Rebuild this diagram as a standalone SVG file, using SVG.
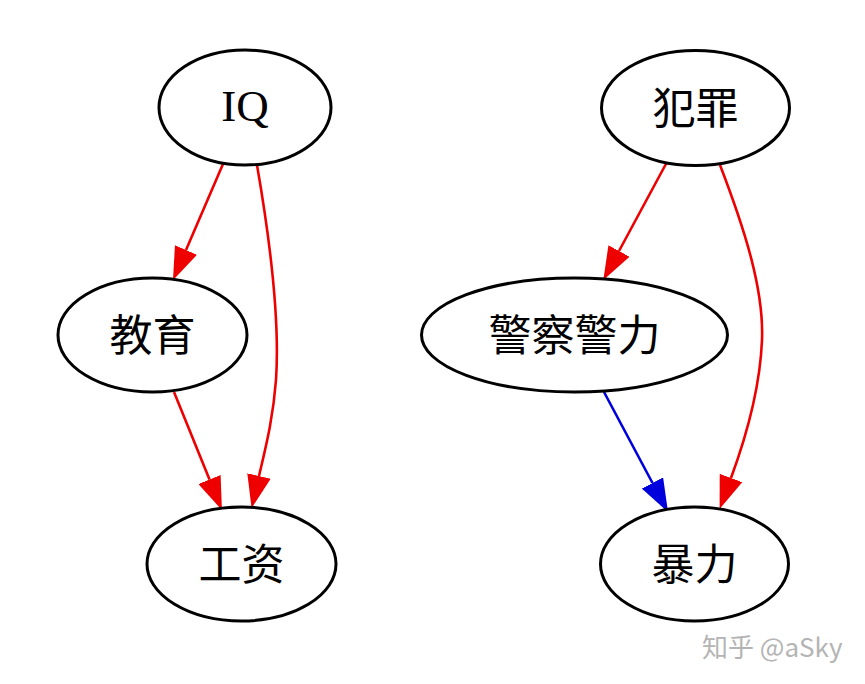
<svg xmlns="http://www.w3.org/2000/svg" width="865" height="684" viewBox="0 0 865 684">
<style>
.node ellipse{fill:#ffffff;stroke:#000000;stroke-width:3}
.node text{font-family:"Liberation Serif","Noto Sans CJK SC",serif;font-size:43px;fill:#000000;text-anchor:middle}
.edge{fill:none;stroke-width:2.6}
.red{stroke:#ee0000}
.blue{stroke:#0000dd}
.wm{font-family:"Noto Sans CJK SC","Liberation Sans",sans-serif;font-size:26px;fill:#b4b4b4}
</style>
<defs>
<marker id="arrRed" markerUnits="userSpaceOnUse" viewBox="0 0 33 24" refX="0" refY="12" markerWidth="33" markerHeight="24" orient="auto">
<path d="M0,0 L33,12 L0,24 z" fill="#ee0000"/>
</marker>
<marker id="arrBlue" markerUnits="userSpaceOnUse" viewBox="0 0 33 24" refX="0" refY="12" markerWidth="33" markerHeight="24" orient="auto">
<path d="M0,0 L33,12 L0,24 z" fill="#0000dd"/>
</marker>
</defs>
<rect width="865" height="684" fill="#ffffff"/>
<g id="edges">
<path class="edge red" d="M223,164 L186,250" marker-end="url(#arrRed)"/>
<path class="edge red" d="M174,392 L209.5,479.5" marker-end="url(#arrRed)"/>
<path class="edge red" d="M257,165 C270,240 280,320 276,380 C273,420 265,450 259,476" marker-end="url(#arrRed)"/>
<path class="edge red" d="M667,162 L619,251" marker-end="url(#arrRed)"/>
<path class="edge blue" d="M604,392 L652.5,483" marker-end="url(#arrBlue)"/>
<path class="edge red" d="M720,165 C745,230 764,290 762,340 C760,390 745,440 731,478" marker-end="url(#arrRed)"/>
</g>
<g id="node-IQ" class="node">
<ellipse cx="245" cy="107.5" rx="86" ry="57.5"/>
<text x="245" y="121" style="font-size:45px">IQ</text>
</g>
<g id="node-jiaoyu" class="node">
<ellipse cx="152.5" cy="335" rx="94.5" ry="57"/>
<text x="152.5" y="351">教育</text>
</g>
<g id="node-gongzi" class="node">
<ellipse cx="241.5" cy="564" rx="94.5" ry="57"/>
<text x="241.5" y="580">工资</text>
</g>
<g id="node-fanzui" class="node">
<ellipse cx="695.5" cy="108" rx="94" ry="57.5"/>
<text x="695.5" y="124">犯罪</text>
</g>
<g id="node-jingcha" class="node">
<ellipse cx="574.5" cy="335" rx="153" ry="57"/>
<text x="574.5" y="351">警察警力</text>
</g>
<g id="node-baoli" class="node">
<ellipse cx="694.5" cy="564" rx="94" ry="57"/>
<text x="694.5" y="580">暴力</text>
</g>
<text class="wm" x="702" y="657">知乎 @aSky</text>
</svg>
